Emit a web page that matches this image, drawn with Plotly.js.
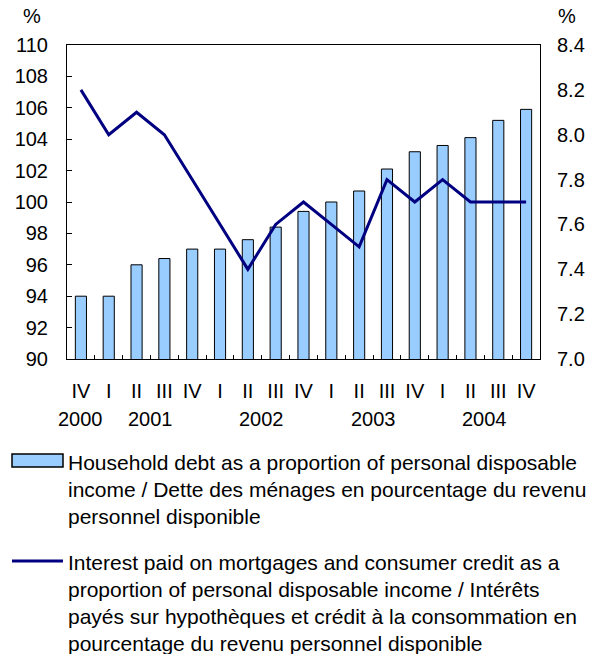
<!DOCTYPE html>
<html>
<head>
<meta charset="utf-8">
<script src="https://cdn.plot.ly/plotly-3.0.1.min.js"></script>
<style>html,body{margin:0;padding:0;background:#fff;}#chart{width:597px;height:654px;}</style>
</head>
<body>
<div id="chart"></div>
<script>
// ---- data ----
var quarters = ['IV','I','II','III','IV','I','II','III','IV','I','II','III','IV','I','II','III','IV'];
var quarterYears = ['2000','2001','2001','2001','2001','2002','2002','2002','2002','2003','2003','2003','2003','2004','2004','2004','2004'];
var householdDebt = [94.0, 94.0, 96.0, 96.4, 97.0, 97.0, 97.6, 98.4, 99.4, 100.0, 100.7, 102.1, 103.2, 103.6, 104.1, 105.2, 105.9];
var interestPaid = [8.2, 8.0, 8.1, 8.0, 7.8, 7.6, 7.4, 7.6, 7.7, 7.6, 7.5, 7.8, 7.7, 7.8, 7.7, 7.7, 7.7];
var debtName = ['Household debt as a proportion of personal disposable',
                'income / Dette des ménages en pourcentage du revenu',
                'personnel disponible'];
var interestName = ['Interest paid on mortgages and consumer credit as a',
                    'proportion of personal disposable income / Intérêts',
                    'payés sur hypothèques et crédit à la consommation en',
                    'pourcentage du revenu personnel disponible'];

// ---- layout geometry (pixels) ----
var W = 597, H = 654;
var M = {l: 67, r: 57, t: 45, b: 295};
var PW = W - M.l - M.r, PH = H - M.t - M.b;
function px(x) { return (x - M.l) / PW; }
function py(y) { return (M.t + PH - y) / PH; }

var idx = quarters.map(function (_, i) { return i; });
var bounds = idx.slice(0, -1).map(function (i) { return i + 0.5; });

// year labels centred under their quarters
var yearList = [];
quarterYears.forEach(function (y) { if (yearList.indexOf(y) < 0) yearList.push(y); });
var FONT = '"Liberation Sans", Arial, sans-serif';
var annotations = yearList.map(function (y) {
  var ii = idx.filter(function (i) { return quarterYears[i] === y; });
  var mean = ii.reduce(function (a, b) { return a + b; }, 0) / ii.length;
  return {x: mean, xref: 'x', y: py(419), yref: 'paper', text: y, showarrow: false,
          xanchor: 'center', yanchor: 'middle', font: {family: FONT, size: 20, color: '#000'}};
});
annotations.push({x: px(32), y: py(16), xref: 'paper', yref: 'paper', text: '%', showarrow: false,
                  xanchor: 'center', yanchor: 'middle', font: {family: FONT, size: 20, color: '#000'}});
annotations.push({x: px(567), y: py(16), xref: 'paper', yref: 'paper', text: '%', showarrow: false,
                  xanchor: 'center', yanchor: 'middle', font: {family: FONT, size: 20, color: '#000'}});

// custom legend
var legendLineGap = 27;
debtName.forEach(function (t, k) {
  annotations.push({x: px(66), y: py(462 + k * legendLineGap), xref: 'paper', yref: 'paper', text: t,
                    showarrow: false, xanchor: 'left', yanchor: 'middle',
                    font: {family: FONT, size: 21, color: '#000'}});
});
interestName.forEach(function (t, k) {
  annotations.push({x: px(66), y: py(562 + k * legendLineGap), xref: 'paper', yref: 'paper', text: t,
                    showarrow: false, xanchor: 'left', yanchor: 'middle',
                    font: {family: FONT, size: 21, color: '#000'}});
});
var shapes = [
  {type: 'rect', xref: 'paper', yref: 'paper', x0: px(12), x1: px(63), y0: py(454), y1: py(467),
   fillcolor: '#99CCFF', line: {color: '#000', width: 1.5}},
  {type: 'line', xref: 'paper', yref: 'paper', x0: px(12), x1: px(63), y0: py(561), y1: py(561),
   line: {color: '#000080', width: 3}}
];

var traces = [
  {type: 'bar', x: idx, y: householdDebt, name: debtName.join(' '),
   marker: {color: '#99CCFF', line: {color: '#000', width: 1}}, width: 0.4,
   hoverinfo: 'y'},
  {type: 'scatter', mode: 'lines', x: idx, y: interestPaid, yaxis: 'y2', name: interestName.join(' '),
   line: {color: '#000080', width: 3}, hoverinfo: 'y'}
];

var layout = {
  width: W, height: H, margin: M, showlegend: false,
  paper_bgcolor: '#fff', plot_bgcolor: '#fff',
  font: {family: FONT, size: 20, color: '#000'},
  xaxis: {range: [-0.5, quarters.length - 0.5], tickmode: 'array', tickvals: idx, ticktext: quarters,
          ticks: '', showgrid: false, zeroline: false, showline: true, linecolor: '#000', linewidth: 1,
          mirror: true, ticklabelstandoff: 14, tickfont: {family: FONT, size: 20, color: '#000'},
          minor: {tickmode: 'array', tickvals: bounds, ticks: 'inside', ticklen: 4, tickcolor: '#000', showgrid: false}},
  yaxis: {range: [90, 110], dtick: 2, tick0: 90, ticks: 'inside', ticklen: 5, tickcolor: '#000',
          showgrid: false, zeroline: false, showline: true, linecolor: '#000', linewidth: 1,
          ticklabelstandoff: 14, tickfont: {family: FONT, size: 20, color: '#000'}},
  yaxis2: {range: [7.0, 8.4], dtick: 0.2, tick0: 7.0, tickformat: '.1f', overlaying: 'y', side: 'right',
           ticks: '', showgrid: false, zeroline: false, showline: true, linecolor: '#000', linewidth: 1,
           ticklabelstandoff: 12, tickfont: {family: FONT, size: 20, color: '#000'}},
  annotations: annotations, shapes: shapes
};

Plotly.newPlot('chart', traces, layout, {displayModeBar: false, staticPlot: true});
</script>
</body>
</html>
